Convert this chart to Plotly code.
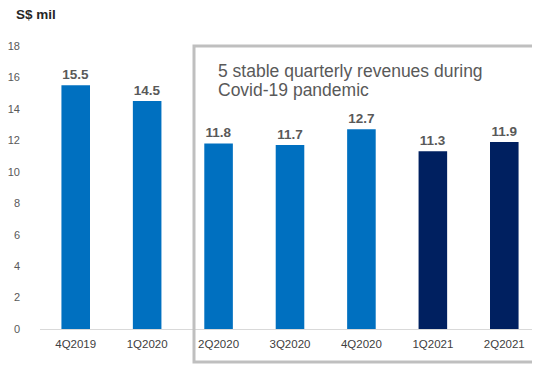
import plotly.graph_objects as go

quarters = ["4Q2019", "1Q2020", "2Q2020", "3Q2020", "4Q2020", "1Q2021", "2Q2021"]
revenue = [15.5, 14.5, 11.8, 11.7, 12.7, 11.3, 11.9]
bar_colors = ["#0070C0"] * 5 + ["#002060"] * 2
y_ticks = [0, 2, 4, 6, 8, 10, 12, 14, 16, 18]

fig = go.Figure()
fig.add_trace(go.Bar(
    x=quarters, y=revenue, marker=dict(color=bar_colors, line=dict(width=0)),
    text=[f"{v:.1f}" for v in revenue], textposition="outside",
    textfont=dict(family="Liberation Sans, Arial", size=13.5, color="#595959"),
    texttemplate="<b>%{text}</b>", cliponaxis=False,
))

fig.update_layout(
    width=532, height=362,
    margin=dict(l=29, r=0, t=38, b=41),
    paper_bgcolor="white", plot_bgcolor="white",
    bargap=0.6, showlegend=False,
    font=dict(family="Liberation Sans, Arial", color="#595959"),
    xaxis=dict(showgrid=False, showline=True, linecolor="#D9D9D9", linewidth=1,
               tickfont=dict(size=11.5, color="#404040"), ticks="", ticklabelstandoff=4),
    yaxis=dict(range=[0, 18], tickvals=y_ticks, showgrid=False, zeroline=False,
               showline=False, tickfont=dict(size=11, color="#595959"), ticklabelstandoff=19),
)

fig.add_shape(type="rect", xref="paper", yref="paper",
              x0=0.308, x1=0.988, y0=-0.117, y1=1.0,
              line=dict(color="#BFBFBF", width=3), fillcolor="rgba(0,0,0,0)")

fig.add_annotation(xref="paper", yref="paper", x=0.352, y=0.912, xanchor="left", yanchor="middle",
                   text="5 stable quarterly revenues during", showarrow=False,
                   align="left", font=dict(size=17.5, color="#595959"))
fig.add_annotation(xref="paper", yref="paper", x=0.352, y=0.845, xanchor="left", yanchor="middle",
                   text="Covid-19 pandemic", showarrow=False,
                   align="left", font=dict(size=17.5, color="#595959"))

fig.add_annotation(xref="paper", yref="paper", x=-0.052, y=1.11, xanchor="left", yanchor="middle",
                   text="<b>S$ mil</b>", showarrow=False, font=dict(size=13.5, color="#262626"))

fig.write_html("out.html")
